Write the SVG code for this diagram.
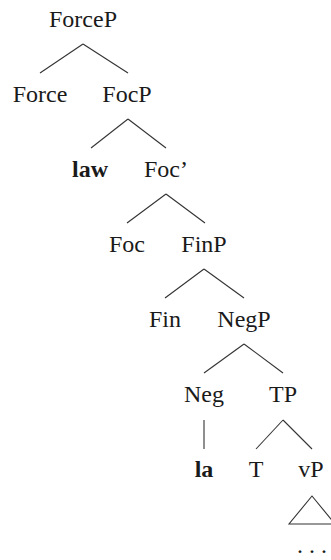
<svg xmlns="http://www.w3.org/2000/svg" width="331" height="560" viewBox="0 0 331 560">
<style>
.t text{font-size:24px;fill:#1a1a1a;text-anchor:middle}
.b{font-weight:bold}
.e line,.e polygon{stroke:#333;stroke-width:1.1;fill:none}
</style>
<rect width="331" height="560" fill="#fff"/>
<g id="connectors" class="e">
<line x1="83" y1="44" x2="40" y2="73"/>
<line x1="83" y1="44" x2="128" y2="73"/>
<line x1="128" y1="119" x2="91" y2="148"/>
<line x1="128" y1="119" x2="166" y2="148"/>
<line x1="166" y1="194" x2="127" y2="223"/>
<line x1="166" y1="194" x2="205" y2="223"/>
<line x1="204" y1="269" x2="165" y2="298"/>
<line x1="204" y1="269" x2="244" y2="298"/>
<line x1="244" y1="344" x2="204" y2="373"/>
<line x1="244" y1="344" x2="283" y2="373"/>
<line x1="204" y1="420" x2="204" y2="449"/>
<line x1="283" y1="420" x2="256" y2="449"/>
<line x1="283" y1="420" x2="312" y2="449"/>
<polygon points="312,496 289,524 335,524"/>
</g>
<g class="t" font-family="'Liberation Serif', Tinos, 'Noto Serif', 'DejaVu Serif', FreeSerif, 'Times New Roman', Times, serif">
<g id="ForceP"><text x="83" y="27">ForceP</text></g>
<g id="Force"><text x="40" y="102">Force</text></g>
<g id="FocP"><text x="127" y="102">FocP</text></g>
<g id="law"><text class="b" x="90" y="177">law</text></g>
<g id="FocBar"><text x="166" y="177">Foc’</text></g>
<g id="Foc"><text x="127" y="252">Foc</text></g>
<g id="FinP"><text x="204" y="252">FinP</text></g>
<g id="Fin"><text x="165" y="327">Fin</text></g>
<g id="NegP"><text x="244" y="327">NegP</text></g>
<g id="Neg"><text x="204" y="402">Neg</text></g>
<g id="TP"><text x="283" y="402">TP</text></g>
<g id="la"><text class="b" x="204" y="477">la</text></g>
<g id="T"><text x="256" y="477">T</text></g>
<g id="vP"><text x="311" y="477">vP</text></g>
<g id="dots"><text x="312" y="553">. . .</text></g>
</g>
</svg>
